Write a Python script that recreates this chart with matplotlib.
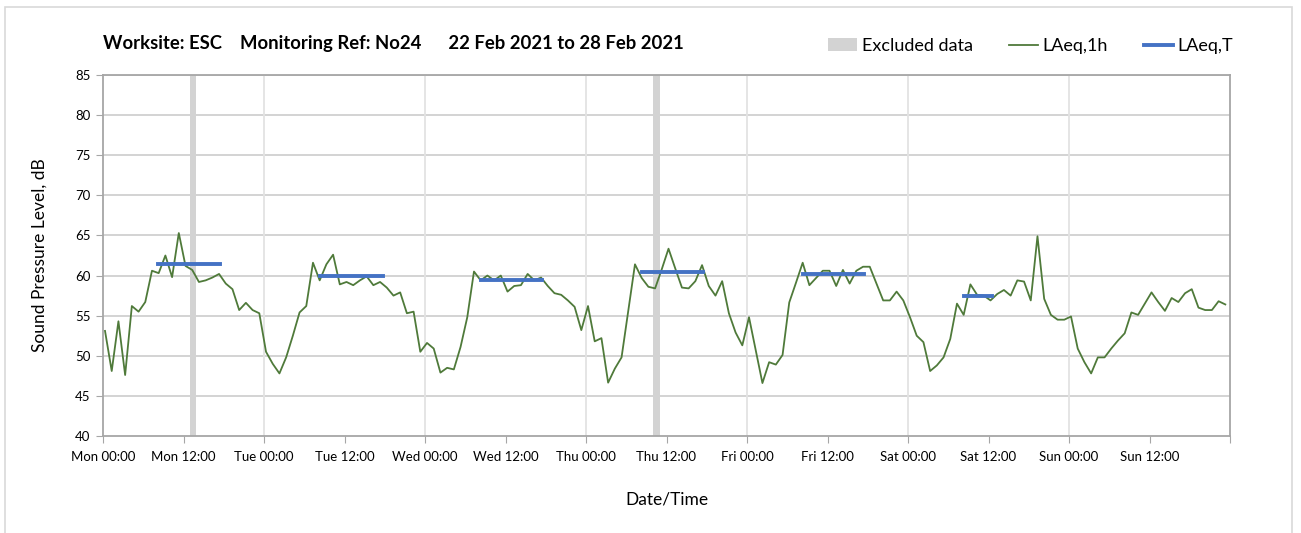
import matplotlib.pyplot as plt
import matplotlib
import numpy as np
from matplotlib.patches import Rectangle, Patch
from matplotlib.lines import Line2D

matplotlib.rcParams['font.family'] = ['Lato', 'DejaVu Sans']

# Hourly LAeq,1h values (dB), Mon 00:00 .. Sun 23:00
laeq_1h = [
    53.1, 48.1, 54.3, 47.6, 56.2, 55.5, 56.7, 60.6, 60.3, 62.5, 59.8, 65.3,
    61.2, 60.7, 59.2, 59.4, 59.75, 60.2, 59.0, 58.3, 55.7, 56.6, 55.7, 55.3,
    50.5, 49.0, 47.8, 49.8, 52.5, 55.4, 56.2, 61.6, 59.4, 61.4, 62.6, 58.9,
    59.2, 58.8, 59.4, 59.9, 58.8, 59.2, 58.5, 57.5, 57.9, 55.3, 55.5, 50.5,
    51.6, 50.9, 47.9, 48.5, 48.3, 51.1, 54.8, 60.5, 59.4, 60.0, 59.4, 60.0,
    58.0, 58.7, 58.8, 60.2, 59.4, 59.75, 58.7, 57.8, 57.6, 56.9, 56.1, 53.2,
    56.2, 51.8, 52.2, 46.65, 48.4, 49.8, 55.6, 61.4, 59.7, 58.6, 58.4, 60.8,
    63.35, 60.9, 58.5, 58.4, 59.3, 61.3, 58.7, 57.5, 59.3, 55.3, 52.9, 51.3,
    54.8, 50.7, 46.6, 49.2, 48.9, 50.1, 56.65, 59.1, 61.6, 58.8, 59.7, 60.6,
    60.6, 58.7, 60.7, 59.0, 60.6, 61.1, 61.1, 59.0, 56.9, 56.9, 58.0, 56.9,
    54.8, 52.5, 51.7, 48.1, 48.8, 49.8, 52.1, 56.5, 55.1, 58.9, 57.6, 57.5,
    56.9, 57.7, 58.2, 57.5, 59.4, 59.25, 56.9, 64.9, 57.1, 55.1, 54.5, 54.5,
    54.9, 50.9, 49.2, 47.8, 49.8, 49.8, 50.9, 51.9, 52.8, 55.4, 55.1, 56.5,
    57.9, 56.7, 55.6, 57.2, 56.7, 57.8, 58.3, 56.0, 55.7, 55.7, 56.8, 56.4,
]
hours = np.arange(len(laeq_1h)) + 0.3

# LAeq,T over each daytime assessment period (start hour, end hour, value)
period_start = [8.2, 32.3, 56.3, 80.3, 104.4, 128.3]
period_end = [17.4, 41.7, 65.4, 89.4, 113.4, 132.5]
period_laeq = [61.4, 60.0, 59.4, 60.4, 60.25, 57.4]

# Excluded data periods (start hour, end hour)
excl_start = [12.9, 82.0]
excl_end = [13.9, 83.0]

tick_labels = ['Mon 00:00', 'Mon 12:00', 'Tue 00:00', 'Tue 12:00', 'Wed 00:00',
               'Wed 12:00', 'Thu 00:00', 'Thu 12:00', 'Fri 00:00', 'Fri 12:00',
               'Sat 00:00', 'Sat 12:00', 'Sun 00:00', 'Sun 12:00', '']

green = '#4F7A3A'
blue = '#4472C4'
grey = '#D3D3D3'

fig = plt.figure(figsize=(13.01, 5.33), dpi=100)
ax = fig.add_axes([103 / 1301, 97 / 533, 1127 / 1301, 361 / 533])

# outer chart frame
fig.patches.append(Rectangle((5 / 1301, -0.05), 1287 / 1301, 1.037, transform=fig.transFigure,
                             fill=False, edgecolor='#D9D9D9', linewidth=1.2))

for s, e in zip(excl_start, excl_end):
    ax.axvspan(s, e, color=grey, zorder=1, linewidth=0)

ax.plot(hours, laeq_1h, color=green, linewidth=1.3, zorder=3)

for s, e, v in zip(period_start, period_end, period_laeq):
    ax.plot([s, e], [v, v], color=blue, linewidth=2.8, zorder=4)

ax.set_xlim(0, 168)
ax.set_ylim(40, 85)
ax.set_yticks(np.arange(40, 86, 5))
ax.set_xticks(np.arange(0, 169, 12))
ax.set_xticklabels(tick_labels)
ax.tick_params(axis='x', labelsize=9.5, length=5, color='#A6A6A6', pad=6)
ax.tick_params(axis='y', labelsize=9.5, length=5, color='#A6A6A6', pad=4)

# grid: horizontal every 5 dB, vertical at midnight only
for v in np.arange(45, 86, 5):
    ax.axhline(v, color='#D0D0D0', linewidth=1.3, zorder=0)
for d in range(24, 168, 24):
    ax.axvline(d, color='#E3E3E3', linewidth=1.3, zorder=0)

for side in ['left', 'bottom', 'right', 'top']:
    ax.spines[side].set_color('#A6A6A6')
    ax.spines[side].set_linewidth(1.3)

ax.set_ylabel('Sound Pressure Level, dB', fontsize=12.5, labelpad=20)
ax.set_xlabel('Date/Time', fontsize=12.5, labelpad=20)

fig.text(103 / 1301, 1 - 43 / 533, 'Worksite: ESC    Monitoring Ref: No24      22 Feb 2021 to 28 Feb 2021',
         fontsize=13.3, fontweight='bold', va='center', ha='left')

handles = [Patch(facecolor=grey, edgecolor='none'),
           Line2D([0], [0], color=green, linewidth=1.3),
           Line2D([0], [0], color=blue, linewidth=2.8)]
fig.legend(handles, ['Excluded data', 'LAeq,1h', 'LAeq,T'], loc='center right',
           bbox_to_anchor=(1249 / 1301, 1 - 46 / 533), ncol=3, frameon=False,
           fontsize=13, handlelength=1.6, handletextpad=0.25, columnspacing=2.0)

fig.savefig('out.png', dpi=100)
plt.close(fig)
